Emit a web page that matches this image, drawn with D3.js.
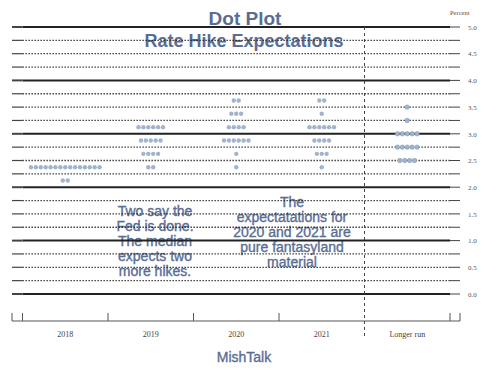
<!DOCTYPE html>
<html>
<head>
<meta charset="utf-8">
<script src="https://cdn.jsdelivr.net/npm/d3@7"></script>
<style>
  body { margin: 0; background: #fff; }
  svg { display: block; }
</style>
</head>
<body>
<div id="chart"></div>
<script>
// categories and the dots for each (rate, how many participants)
var categories = ['2018', '2019', '2020', '2021', 'Longer run'];
var dots2018 = [{rate: 2.375, n: 15}, {rate: 2.125, n: 2}];
var dots2019 = [{rate: 3.125, n: 6}, {rate: 2.875, n: 5}, {rate: 2.625, n: 4}, {rate: 2.375, n: 2}];
var dots2020 = [{rate: 3.625, n: 2}, {rate: 3.375, n: 3}, {rate: 3.125, n: 4}, {rate: 2.875, n: 6}, {rate: 2.625, n: 1}, {rate: 2.375, n: 1}];
var dots2021 = [{rate: 3.625, n: 2}, {rate: 3.375, n: 1}, {rate: 3.125, n: 6}, {rate: 2.875, n: 4}, {rate: 2.625, n: 3}, {rate: 2.375, n: 1}];
var dotsLonger = [{rate: 3.5, n: 1}, {rate: 3.25, n: 1}, {rate: 3.0, n: 5}, {rate: 2.75, n: 5}, {rate: 2.5, n: 4}];
var yTickLabels = ['0.0', '0.5', '1.0', '1.5', '2.0', '2.5', '3.0', '3.5', '4.0', '4.5', '5.0'];
var note1 = ['Two say the', 'Fed is done.', 'The median', 'expects two', 'more hikes.'];
var note2 = ['The', 'expectatations for', '2020 and 2021 are', 'pure fantasyland', 'material'];

var series = [dots2018, dots2019, dots2020, dots2021, dotsLonger];

var chart = {
  width: 500,
  height: 372,
  left: 22.5,
  right: 450,
  top: 27,
  bottom: 294,
  axisY: 321
};

var blue = '#5a6d94';

var x = d3.scaleBand().domain(categories).range([chart.left, chart.right]);
var y = d3.scaleLinear().domain([0, 5]).range([chart.bottom, chart.top]);

var svg = d3.select('#chart').append('svg')
  .attr('width', chart.width)
  .attr('height', chart.height);

// titles
svg.append('text')
  .attr('x', 245).attr('y', 25)
  .attr('text-anchor', 'middle')
  .style('font', 'bold 19px "Liberation Sans", Arial, sans-serif')
  .attr('fill', blue)
  .text('Dot Plot');

svg.append('text')
  .attr('x', 244).attr('y', 47)
  .attr('text-anchor', 'middle')
  .style('font', 'bold 18px "Liberation Sans", Arial, sans-serif')
  .attr('fill', blue)
  .text('Rate Hike Expectations');

// annotations sit under the grid lines
function note(lines, cx, y0) {
  svg.append('g').selectAll('text')
    .data(lines)
    .enter().append('text')
    .attr('x', cx)
    .attr('y', function(d, i) { return y0 + i * 15; })
    .attr('text-anchor', 'middle')
    .style('font', '14px "Liberation Sans", Arial, sans-serif')
    .attr('fill', blue)
    .attr('stroke', blue)
    .attr('stroke-width', 0.35)
    .text(function(d) { return d; });
}
note(note1, 155, 216);
note(note2, 292, 207);

// horizontal grid at every quarter point
var grid = svg.append('g');
var levels = d3.range(0, 5.001, 0.25);

grid.selectAll('line.main')
  .data(levels)
  .enter().append('line')
  .attr('class', 'main')
  .attr('x1', chart.left).attr('x2', chart.right)
  .attr('y1', function(d) { return y(d); })
  .attr('y2', function(d) { return y(d); })
  .attr('stroke', '#222')
  .attr('stroke-width', function(d) { return d % 1 === 0 ? 2 : 1.3; })
  .attr('stroke-dasharray', function(d) { return d % 1 === 0 ? null : '1.3,1.7'; });

grid.selectAll('line.tl')
  .data(levels)
  .enter().append('line')
  .attr('x1', 12).attr('x2', chart.left)
  .attr('y1', function(d) { return y(d); })
  .attr('y2', function(d) { return y(d); })
  .attr('stroke', '#444')
  .attr('stroke-width', function(d) { return d % 1 === 0 ? 2 : 1.2; });

grid.selectAll('line.tr')
  .data(levels)
  .enter().append('line')
  .attr('x1', chart.right).attr('x2', 460)
  .attr('y1', function(d) { return y(d); })
  .attr('y2', function(d) { return y(d); })
  .attr('stroke', '#444')
  .attr('stroke-width', 1);

// right side labels
var yAxis = svg.append('g')
  .attr('transform', 'translate(466,0)')
  .call(d3.axisRight(y)
    .tickValues(yTickLabels.map(Number))
    .tickFormat(function(d, i) { return yTickLabels[i]; })
    .tickSize(0)
    .tickPadding(2));
yAxis.select('.domain').remove();
yAxis.selectAll('text')
  .style('font', '7px "Liberation Serif", "DejaVu Serif", serif')
  .attr('fill', '#555');

svg.append('text')
  .attr('x', 450).attr('y', 15)
  .style('font', '6.5px "Liberation Serif", serif')
  .attr('fill', '#555')
  .text('Percent');

// dashed separator before the longer run
var sep = x('Longer run');
svg.append('line')
  .attr('x1', sep).attr('x2', sep)
  .attr('y1', chart.top).attr('y2', 338)
  .attr('stroke', '#444')
  .attr('stroke-dasharray', '3,3');

// bottom axis
var xAxis = svg.append('g')
  .attr('transform', 'translate(0,' + chart.axisY + ')')
  .call(d3.axisBottom(x).tickSize(0).tickPadding(10));
xAxis.select('.domain').remove();
xAxis.selectAll('text')
  .style('font', '8px "Liberation Serif", "DejaVu Serif", serif')
  .attr('fill', '#444');

svg.append('line')
  .attr('x1', 12).attr('x2', 460)
  .attr('y1', chart.axisY).attr('y2', chart.axisY)
  .attr('stroke', '#555');

var edges = [12, chart.left, x('2019'), x('2020'), x('2021'), chart.right, 460];
svg.append('g').selectAll('line')
  .data(edges)
  .enter().append('line')
  .attr('x1', function(d) { return d; })
  .attr('x2', function(d) { return d; })
  .attr('y1', chart.axisY - 8).attr('y2', chart.axisY)
  .attr('stroke', '#555');

// dots
var step = 4.9;
var dotG = svg.append('g');
series.forEach(function(rows, ci) {
  var cx = x(categories[ci]) + x.bandwidth() / 2;
  rows.forEach(function(row) {
    dotG.selectAll(null)
      .data(d3.range(row.n))
      .enter().append('circle')
      .attr('r', 2.2)
      .attr('cx', function(i) { return cx + (i - (row.n - 1) / 2) * step; })
      .attr('cy', y(row.rate))
      .attr('fill', '#a2b4cd')
      .attr('stroke', ci === 4 ? '#8299b8' : 'none')
      .attr('stroke-width', 0.6);
  });
});

// footer
svg.append('text')
  .attr('x', 244).attr('y', 362)
  .attr('text-anchor', 'middle')
  .style('font', '14px "Liberation Sans", Arial, sans-serif')
  .attr('fill', blue)
  .attr('stroke', blue)
  .attr('stroke-width', 0.35)
  .text('MishTalk');
</script>
</body>
</html>
